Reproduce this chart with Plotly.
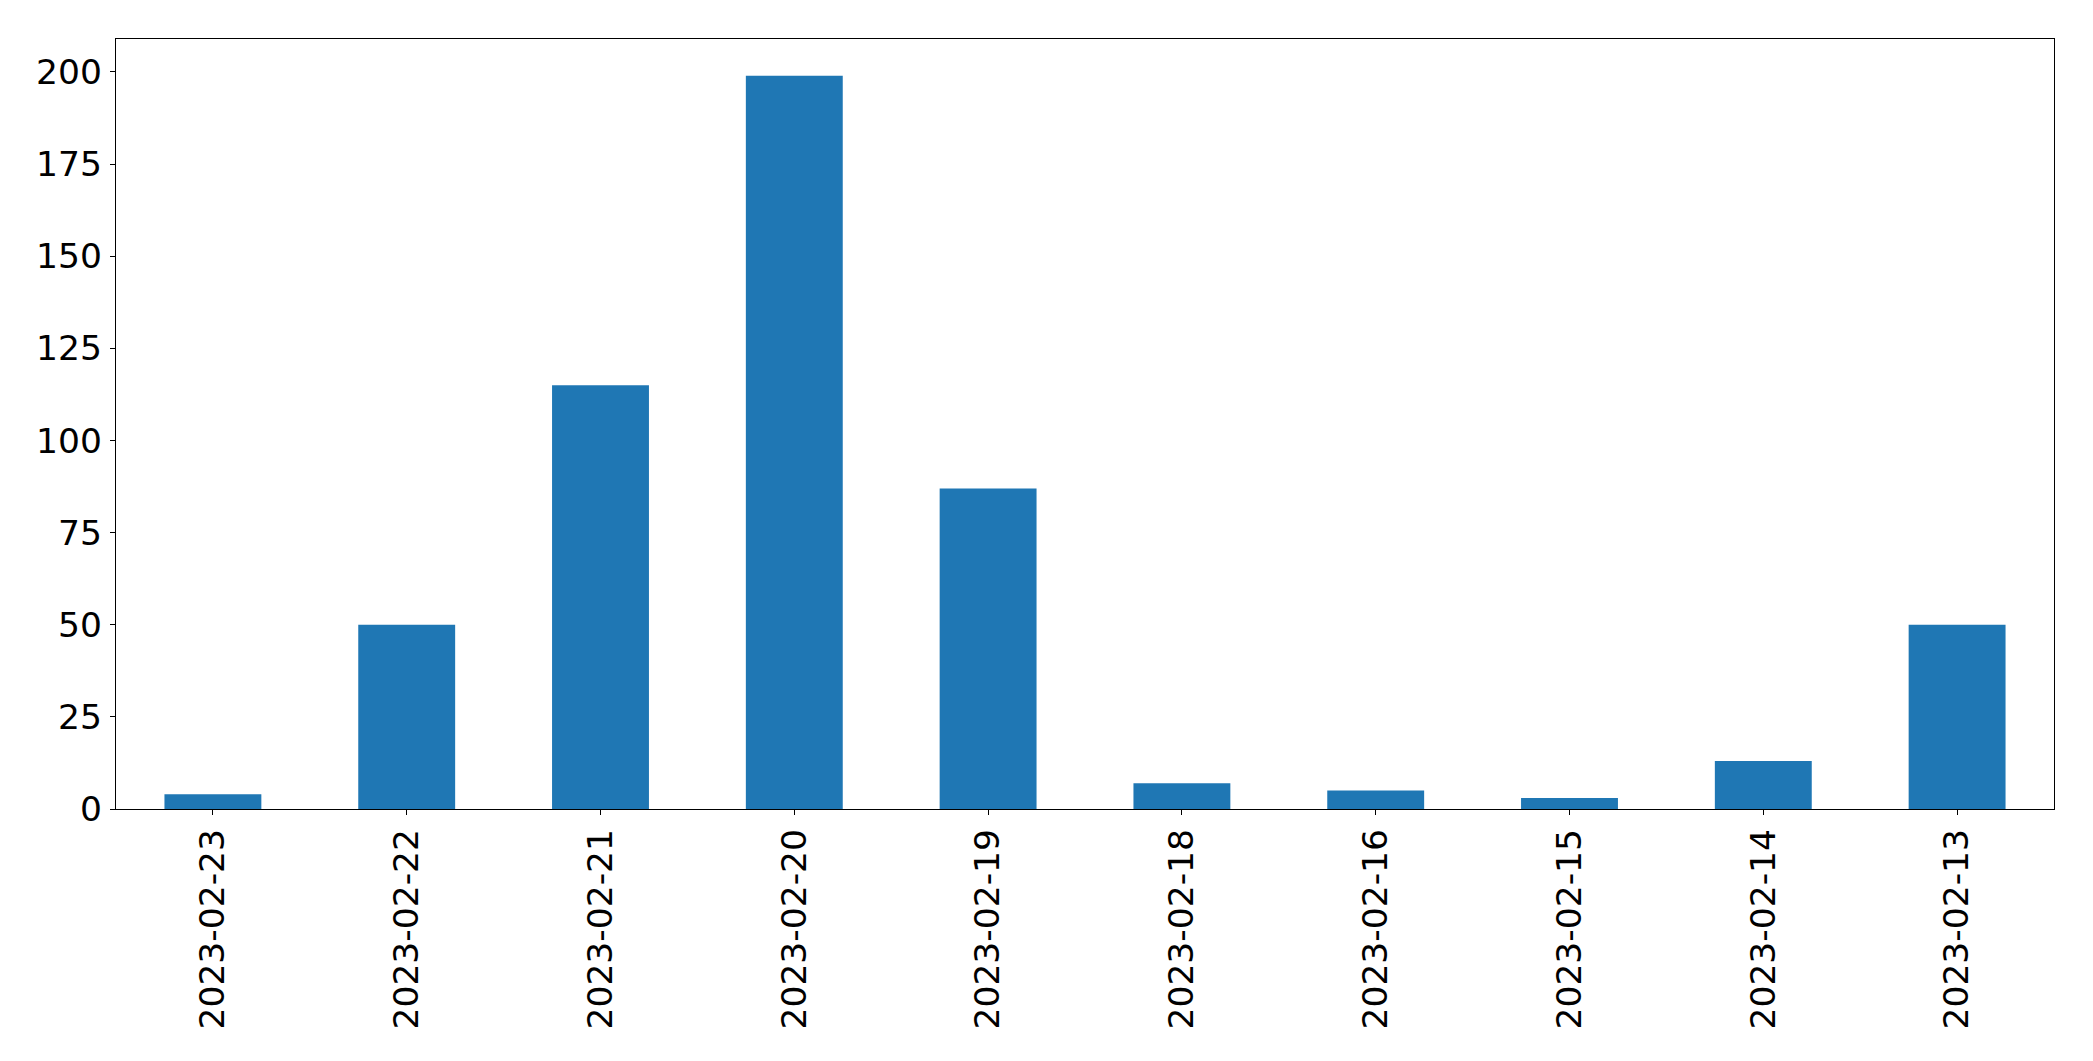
import plotly.graph_objects as go

dates = ["2023-02-23", "2023-02-22", "2023-02-21", "2023-02-20", "2023-02-19",
         "2023-02-18", "2023-02-16", "2023-02-15", "2023-02-14", "2023-02-13"]
counts = [4, 50, 115, 199, 87, 7, 5, 3, 13, 50]

fig = go.Figure(go.Bar(x=dates, y=counts, width=0.5, marker_color="#1f77b4",
                       marker_line_width=0))

font = dict(family="DejaVu Sans", size=34.5, color="black")
fig.update_layout(
    width=2077, height=1045,
    margin=dict(l=108, r=31, t=31, b=244),
    plot_bgcolor="white", paper_bgcolor="white",
    showlegend=False, bargap=0.5,
)
fig.update_xaxes(type="category", range=[-0.5, 9.5], tickangle=-90, tickfont=font,
                 showline=True, linecolor="black", linewidth=1.4, mirror=True,
                 ticks="outside", ticklen=5, tickcolor="black", tickwidth=1.3,
                 showgrid=False, ticklabelstandoff=0)
fig.update_yaxes(range=[0, 199 * 1.05], tickvals=[0, 25, 50, 75, 100, 125, 150, 175, 200],
                 tickfont=font, showline=True, linecolor="black", linewidth=1.4, mirror=True,
                 ticks="outside", ticklen=5, tickcolor="black", tickwidth=1.3,
                 showgrid=False, zeroline=False, ticklabelstandoff=1)

fig.write_html("out.html")
